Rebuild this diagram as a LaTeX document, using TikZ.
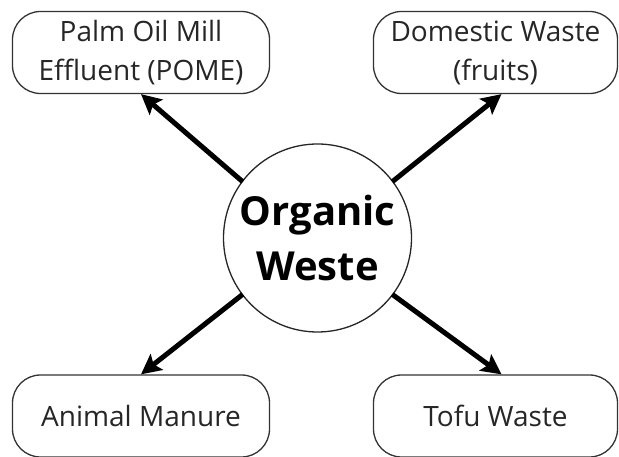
\documentclass[tikz,border=0pt]{standalone}
\usepackage{fontspec}
\setmainfont{Open Sans}
\usetikzlibrary{arrows.meta}
\begin{document}
\begin{tikzpicture}[x=1pt,y=-1pt,
  srcbox/.style={draw=black!80, line width=1.3pt, rounded corners=28pt, minimum height=82pt, inner sep=0pt, align=center, text=black!85, font=\fontsize{28}{39}\selectfont},
  hub/.style={circle, draw=black!85, line width=1.3pt, minimum size=188pt, inner sep=0pt, align=center, font=\fontsize{40}{55}\selectfont\bfseries},
  arr/.style={line width=5pt, -{Stealth[length=20pt,width=20pt,inset=4pt]}, shorten <=-1pt}]
\useasboundingbox (0,0) rectangle (619,457);
\node[hub] (c) at (317.5,238) {Organic\\Weste};
\node[srcbox, minimum width=257pt] (tl) at (141,52.5) {Palm Oil Mill\\Effluent (POME)};
\node[srcbox, minimum width=244pt] (tr) at (495.5,52.5) {Domestic Waste\\(fruits)};
\node[srcbox, minimum width=257pt] (bl) at (141,416) {\raisebox{-3pt}{Animal Manure}};
\node[srcbox, minimum width=244pt] (br) at (495.5,416) {\raisebox{-3pt}{Tofu Waste}};
\draw[arr] (c.143) -- (tl.south);
\draw[arr] (c.37) -- ([xshift=6pt]tr.south);
\draw[arr] (c.217) -- (bl.north);
\draw[arr] (c.323) -- ([xshift=6pt]br.north);
\end{tikzpicture}
\end{document}
